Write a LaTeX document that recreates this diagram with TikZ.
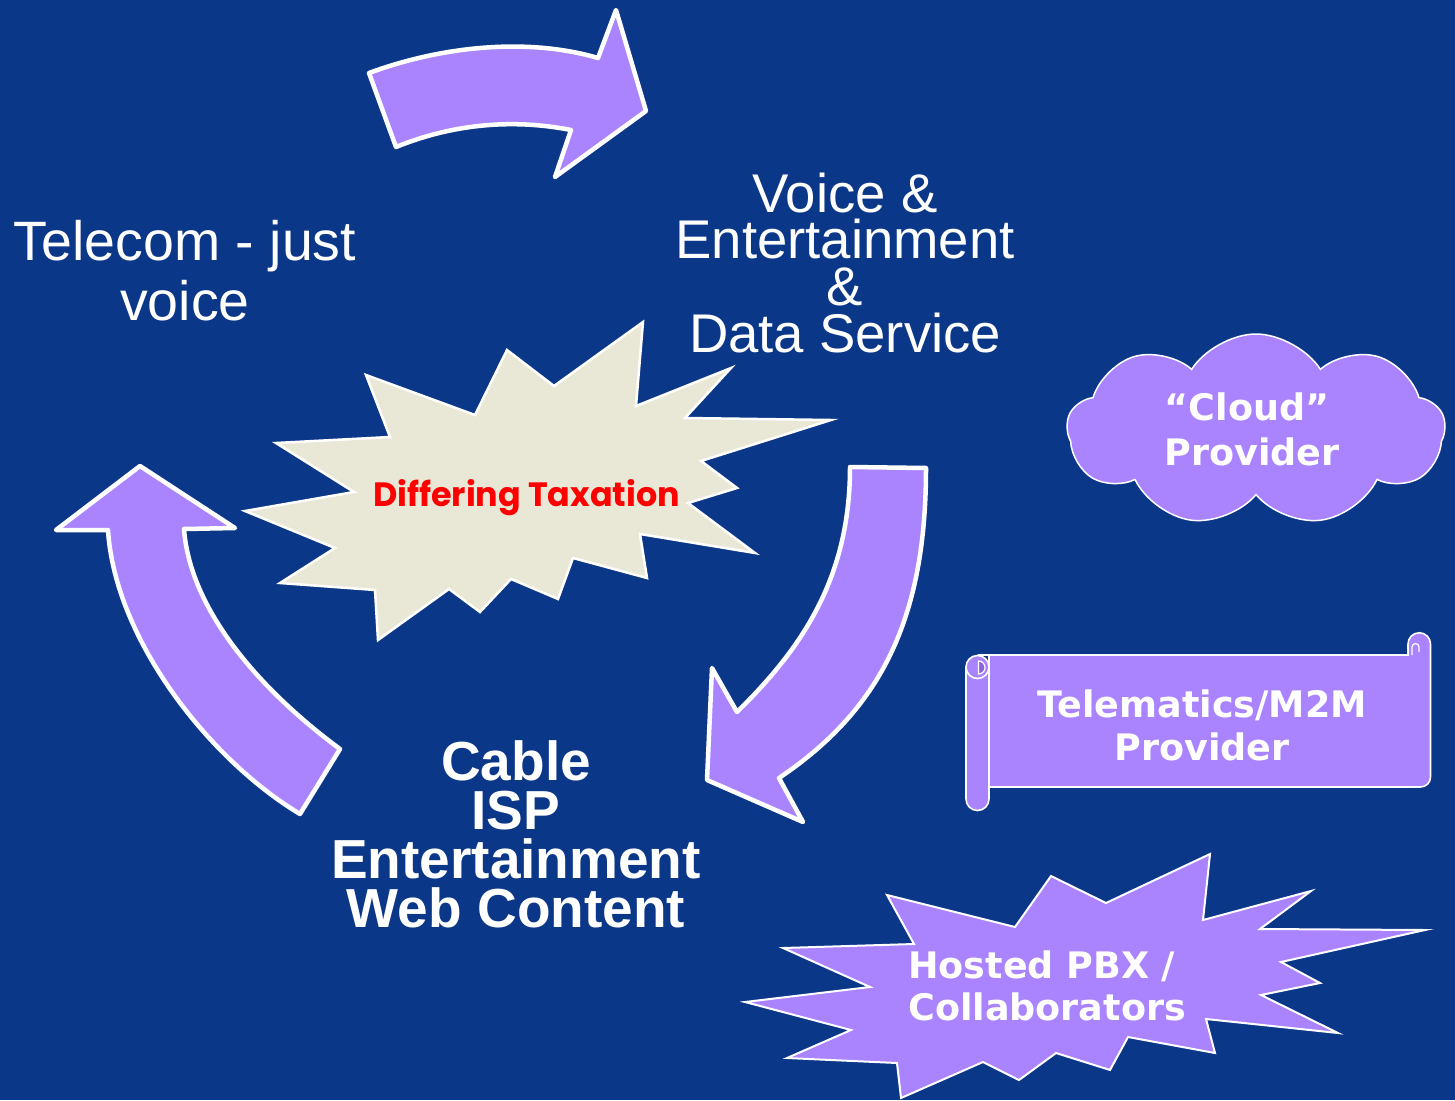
\documentclass[tikz,border=0pt]{standalone}
\usepackage{fontspec}
\usepackage{graphicx}
\setmainfont{Liberation Sans}
\newfontfamily\dvsfont{DejaVu Sans}
\newfontfamily\popfont{Poppins}
\usetikzlibrary{shapes.symbols}
\definecolor{bg}{RGB}{11,55,137}
\definecolor{lav}{RGB}{170,131,255}
\definecolor{tanfill}{RGB}{233,232,214}
\definecolor{curlcol}{RGB}{140,100,220}
\tikzset{
  arrowst/.style={fill=lav, draw=white, line width=4.5pt, line join=round},
  burstA/.style={fill=tanfill, draw=white, line width=2.5pt},
  burstB/.style={fill=lav, draw=white, line width=2pt},
  scrollst/.style={fill=lav, draw=white, line width=1.6pt},
  lbl/.style={inner sep=0pt, text=white, anchor=base},
  plainA/.style={lbl, font=\fontsize{55.5}{59.3}\selectfont, align=center},
  plainB/.style={lbl, font=\fontsize{54.5}{46.7}\selectfont, align=center},
  boldC/.style={lbl, font=\fontsize{55}{48.9}\selectfont\bfseries, align=center},
  dvs/.style={lbl, font=\dvsfont\fontsize{36.5}{42}\selectfont\bfseries},
}
\begin{document}
\begin{tikzpicture}[x=1pt,y=-1pt]
\fill[bg] (0,0) rectangle (1455,1100);
\path[use as bounding box] (0,0) rectangle (1455,1100);

% top arrow
\filldraw[arrowst] (369,73) .. controls (445,45) and (530,38) .. (598,58)
  -- (616,10) -- (646,111) -- (555,177) -- (571,130)
  .. controls (510,118) and (450,125) .. (396,147) -- cycle;

% right arrow (down)
\filldraw[arrowst] (850,467) -- (926,468) .. controls (926,620) and (880,710) .. (779,778)
  -- (803,822) -- (707,780) -- (712,668) -- (737,712)
  .. controls (800,650) and (850,580) .. (850,467) -- cycle;

% left arrow (up)
\filldraw[arrowst] (140,466) -- (235,528) -- (184,529)
  .. controls (190,610) and (260,690) .. (340,749) -- (300,814)
  .. controls (210,760) and (115,640) .. (108,530) -- (56,530) -- cycle;

% Differing taxation burst
\filldraw[burstA] (366,375) -- (475,415) -- (507,350) -- (554,386) -- (643,322)
  -- (636,406) -- (731,368) -- (685,418) -- (831,420) -- (701,461)
  -- (737,488) -- (688,503) -- (755,553) -- (640,534) -- (647,578)
  -- (573,558) -- (558,599) -- (511,579) -- (480,612) -- (449,589)
  -- (378,640) -- (375,590) -- (280,583) -- (335,548) -- (245,511)
  -- (354,492) -- (276,443) -- (390,437) -- cycle;

% Hosted PBX burst
\filldraw[burstB] (887,895) -- (1015,927) -- (1051,876) -- (1106,903) -- (1210,854)
  -- (1203,920) -- (1311,891) -- (1260,929) -- (1425,930) -- (1281,962)
  -- (1320,983) -- (1261,995) -- (1338,1033) -- (1206,1019) -- (1215,1053)
  -- (1128,1037) -- (1110,1070) -- (1056,1053) -- (1019,1080) -- (983,1062)
  -- (901,1098) -- (897,1063) -- (787,1058) -- (851,1030) -- (745,1002)
  -- (870,987) -- (783,948) -- (914,944) -- cycle;

% cloud
\node[cloud, cloud puffs=9, cloud puff arc=115, cloud ignores aspect, minimum width=378pt, minimum height=192pt,
  fill=lav, draw=white, line width=1.5pt] (cloud) at (1256,430) {};

% scroll
\filldraw[scrollst] (978,655) -- (1408,655) -- (1408,644)
  arc[start angle=180, end angle=360, radius=11.25] -- (1430.5,777)
  arc[start angle=0, end angle=90, radius=10] -- (989,787) -- (989,655) -- cycle;
\draw[white, line width=1.2pt] (1412,655) -- (1412,647) arc[start angle=180, end angle=360, radius=3.5] -- (1419,652);
\filldraw[scrollst] (966,667) -- (966,799) arc[start angle=180, end angle=0, radius=11.5] -- (989,667) -- cycle;
\filldraw[scrollst] (977.5,667) circle[radius=11.5];
\filldraw[fill=curlcol, draw=white, line width=1.2pt] (978.5,661) arc[start angle=-90, end angle=90, radius=6.5] -- cycle;

% texts (base anchor = baseline of the last line)
\node[plainA] (tel) at (185,320) {Telecom - just\\voice};

\node[plainB] (voice) at (845,352.3) {Voice \&\\Entertainment\\\&\\Data Service};

\node[boldC] (cable) at (516,927.3) {Cable\\ISP\\Entertainment\\Web Content};

\node[lbl, text=red] (tax) at (526.6,506.7) {\resizebox{307pt}{27pt}{\popfont\fontsize{36}{40}\selectfont\bfseries Differing Taxation}};

\node[dvs] (cl1) at (1247,420) {“Cloud”};
\node[dvs] (cl2) at (1252,465) {Provider};

\node[dvs] (s1) at (1202,717.3) {Telematics/M2M};
\node[dvs] (s2) at (1202,760) {Provider};

\node[dvs, anchor=base west] (h1) at (908,978.3) {Hosted PBX /};
\node[dvs, anchor=base west] (h2) at (908,1020.7) {Collaborators};
\end{tikzpicture}
\end{document}
